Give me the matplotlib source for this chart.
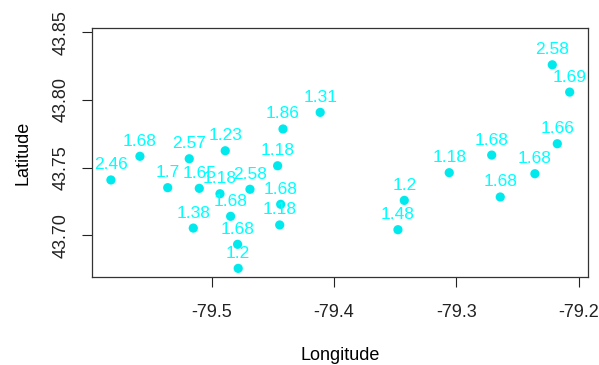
import numpy as np
import matplotlib
matplotlib.use("Agg")
import matplotlib.pyplot as plt

# station coordinates and their values
lon = [-79.5823, -79.5586, -79.5183, -79.4889, -79.4417, -79.4113, -79.4461,
       -79.5359, -79.5101, -79.4932, -79.4687, -79.4436, -79.4845, -79.4444,
       -79.5150, -79.4788, -79.4783,
       -79.2217, -79.2075, -79.2176, -79.2712, -79.3059, -79.2359, -79.2642,
       -79.3426, -79.3478]
lat = [43.7408, 43.7583, 43.7565, 43.7624, 43.7785, 43.7908, 43.7513,
       43.7351, 43.7346, 43.7306, 43.7339, 43.7228, 43.7139, 43.7075,
       43.7052, 43.6932, 43.6754,
       43.8260, 43.8058, 43.7676, 43.7592, 43.7462, 43.7454, 43.7282,
       43.7257, 43.7040]
labels = ["2.46", "1.68", "2.57", "1.23", "1.86", "1.31", "1.18",
          "1.7", "1.65", "1.18", "2.58", "1.68", "1.68", "1.18",
          "1.38", "1.68", "1.2",
          "2.58", "1.69", "1.66", "1.68", "1.18", "1.68", "1.68",
          "1.2", "1.48"]

x_ticks = [-79.5, -79.4, -79.3, -79.2]
y_ticks = [43.70, 43.75, 43.80, 43.85]

plt.rcParams['font.family'] = ['Liberation Sans', 'DejaVu Sans']

fig = plt.figure(figsize=(5.99, 3.65), dpi=100)
ax = fig.add_axes([0.1541, 0.2403, 0.8280, 0.6822])

ax.scatter(lon, lat, s=44, color='#00EAEE', edgecolors='none', zorder=3)
for x, y, t in zip(lon, lat, labels):
    ax.annotate(t, (x, y), xytext=(0, 7.6), textcoords='offset points',
                ha='center', va='baseline', fontsize=12.5, color='#00FFFF')

ax.set_xlim(-79.5975, -79.1923)
ax.set_ylim(43.6688, 43.853)
ax.set_xticks(x_ticks)
ax.set_xticklabels(["%.1f" % v for v in x_ticks])
ax.set_yticks(y_ticks)
ax.set_yticklabels(["%.2f" % v for v in y_ticks], rotation=90, va='center')
ax.tick_params(length=7.5, width=0.8, labelsize=13, colors='#222222')
ax.tick_params(axis='x', pad=12)
ax.tick_params(axis='y', pad=9)
for s in ax.spines.values():
    s.set_linewidth(0.9)
    s.set_color('#333333')

ax.set_xlabel("Longitude", fontsize=13, labelpad=18.5)
ax.set_ylabel("Latitude", fontsize=13, labelpad=15)

fig.savefig("out.png", dpi=100)
